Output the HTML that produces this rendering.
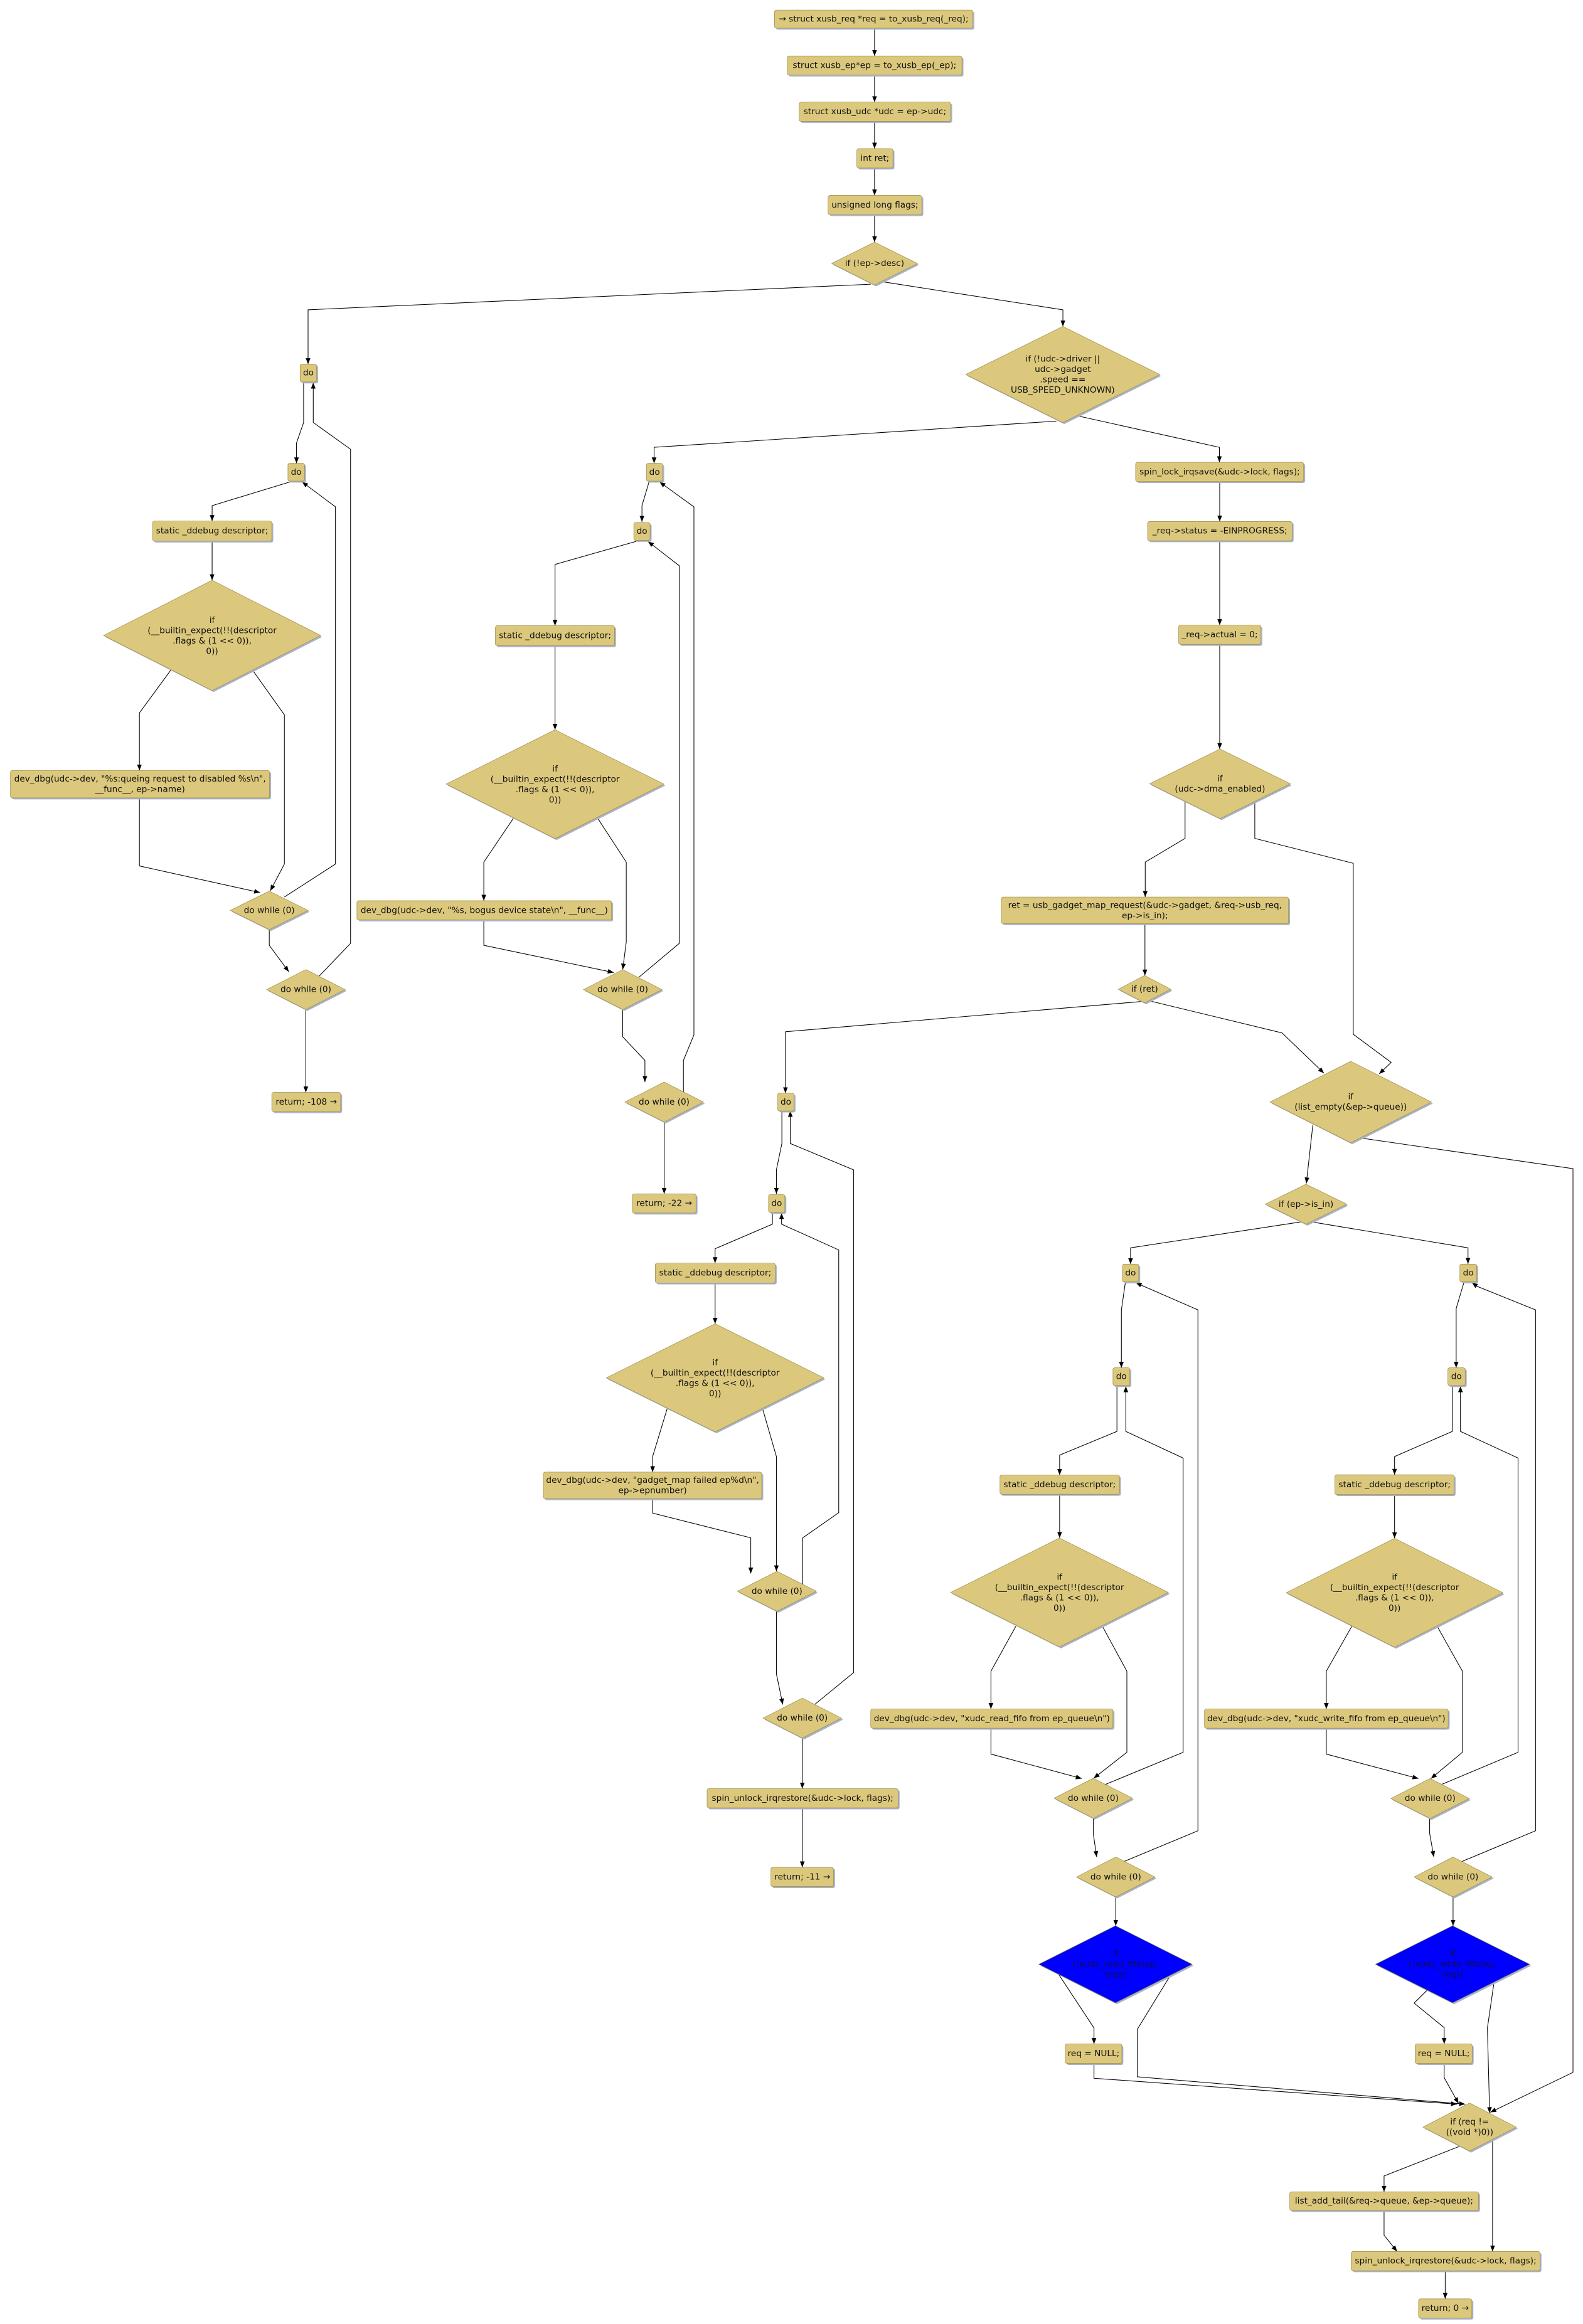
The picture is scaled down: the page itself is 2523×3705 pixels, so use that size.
<!DOCTYPE html>
<html><head><meta charset="utf-8"><style>
html,body{margin:0;padding:0;background:#fff}
svg{display:block}
.n{fill:#dbc87c;stroke:#9c8a45;stroke-width:.3}
.bl{fill:#0000ff;stroke:#6a6a40;stroke-width:.3}
.s{fill:#a9b3c9}
.e{fill:none;stroke:#000;stroke-width:.45;marker-end:url(#a)}
text{font-family:"DejaVu Sans","Liberation Sans",sans-serif;font-size:5.8px;fill:#111;text-anchor:middle;dominant-baseline:central}
</style></head><body>
<svg width="2523" height="3705" viewBox="0 0 1069 1570" xmlns="http://www.w3.org/2000/svg">
<defs><marker id="a" viewBox="0 0 10 10" refX="10" refY="5" markerWidth="4" markerHeight="4" markerUnits="userSpaceOnUse" orient="auto"><path d="M0,1 L10,5 L0,9z" fill="#000"/></marker></defs>

<g>
<polyline class="e" points="590.6,19 590.6,37.8"/>
<polyline class="e" points="590.6,50.7 590.6,69"/>
<polyline class="e" points="590.6,82 590.6,100.4"/>
<polyline class="e" points="590.6,113.5 590.6,132"/>
<polyline class="e" points="590.6,145 590.6,163.6"/>
<polyline class="e" points="588,192 208,209.3 208,246"/>
<polyline class="e" points="595.7,190.3 717.8,209.3 717.8,220.5"/>
<polyline class="e" points="713.4,284.5 441.7,302.2 441.7,313"/>
<polyline class="e" points="728,281 823.5,302.2 823.5,312.3"/>
<polyline class="e" points="823.7,325.5 823.7,352.3"/>
<polyline class="e" points="823.7,365.5 823.7,422.3"/>
<polyline class="e" points="823.7,435.5 823.7,506"/>
<polyline class="e" points="800.3,541.3 800.3,566.4 773.4,582.4 773.4,606"/>
<polyline class="e" points="847.4,541.3 847.4,566.4 913.9,583.2 913.9,698.7 939.5,717.7 931.4,725.5"/>
<polyline class="e" points="773.2,624 773.2,659"/>
<polyline class="e" points="770.7,676.6 530.4,697 530.4,738.5"/>
<polyline class="e" points="776.5,676.2 865.8,697.8 894.1,725"/>
<polyline class="e" points="886.6,760 882.2,799.5"/>
<polyline class="e" points="918.2,768.7 1062.3,789.5 1062.3,1400 1006.5,1427"/>
<polyline class="e" points="878.4,825.5 763.5,843 763.5,854"/>
<polyline class="e" points="886,825.5 991.4,843 991.4,853.8"/>

<polyline class="e" points="205,258 205,285.4 200.2,299.2 200.2,313"/>
<polyline class="e" points="196,325.5 143.2,341.6 143.2,352"/>
<polyline class="e" points="143.2,365.5 143.2,392"/>
<polyline class="e" points="115.3,452.7 94.1,481.6 94.1,520.5"/>
<polyline class="e" points="170.5,452.7 192,482.9 192,583.7 182.5,601.8"/>
<polyline class="e" points="94.1,539 94.1,585 175.6,603"/>
<polyline class="e" points="192,606 226.5,583.7 226.5,342.4 204,325.6"/>
<polyline class="e" points="181.8,628 181.8,638.6 195,656.5"/>
<polyline class="e" points="215.6,659.3 236.7,637.3 236.7,303.5 211.5,285.4 211.5,258.5"/>
<polyline class="e" points="206.5,682 206.5,738"/>

<polyline class="e" points="438.3,325.5 433.5,341.6 433.5,352.5"/>
<polyline class="e" points="430.4,365.5 374.8,381.3 374.8,422.7"/>
<polyline class="e" points="374.8,436.2 374.8,493"/>
<polyline class="e" points="347.2,552 326.7,582.4 326.7,608.5"/>
<polyline class="e" points="403.1,552 422.9,582.4 422.9,636.4 420.5,655"/>
<polyline class="e" points="326.7,621.5 326.7,638.6 414.4,657"/>
<polyline class="e" points="431.4,660.2 458.7,637.3 458.7,382.2 437.6,365.8"/>
<polyline class="e" points="420.5,682 420.5,700.4 435.5,716.4 435.5,731"/>
<polyline class="e" points="461.5,738 461.5,716.4 468.6,699.1 468.6,342.4 445.4,325.6"/>
<polyline class="e" points="448.5,758 448.5,806.5"/>

<polyline class="e" points="528,750.5 528,772.5 524.3,790.3 524.3,806.5"/>
<polyline class="e" points="521.6,819.5 521.6,827 482.9,843.6 482.9,853.3"/>
<polyline class="e" points="482.9,866.7 482.9,894.3"/>
<polyline class="e" points="450.7,951.1 440.7,984 440.7,994.5"/>
<polyline class="e" points="514.8,951.1 524.3,984 524.3,1061.5"/>
<polyline class="e" points="440.7,1012.5 440.7,1022.2 507,1038.9 507,1063"/>
<polyline class="e" points="542.1,1071.4 542.1,1038.9 566.4,1021.9 566.4,844.4 527.8,827 527.8,819.5"/>
<polyline class="e" points="524.3,1088.5 524.3,1130.8 528.6,1151.5"/>
<polyline class="e" points="550,1151.6 576.4,1130 576.4,790.3 533.7,772.5 533.7,750.5"/>
<polyline class="e" points="541.8,1174.2 541.8,1208.3"/>
<polyline class="e" points="541.8,1221.3 541.8,1261.5"/>

<polyline class="e" points="760,866.2 757.3,885 757.3,924"/>
<polyline class="e" points="754.3,936.5 754.3,967 715.6,983 715.6,996.5"/>
<polyline class="e" points="715.6,1009.5 715.6,1039"/>
<polyline class="e" points="686,1098.7 669.2,1129 669.2,1154.5"/>
<polyline class="e" points="744.5,1098.7 761,1129 761,1183.8 738.6,1201.3"/>
<polyline class="e" points="669.2,1167.5 669.2,1185 730.5,1201.5"/>
<polyline class="e" points="745.3,1206 799,1183.8 799,985 760.3,967 760.3,936.5"/>
<polyline class="e" points="738.3,1228.3 738.3,1238.6 740.6,1254.5"/>
<polyline class="e" points="759,1257.6 809,1236.8 809,884.9 772.5,869 767,866.5"/>
<polyline class="e" points="753.5,1281.5 753.5,1301"/>
<polyline class="e" points="714.4,1333 738.8,1370 738.8,1380.8"/>
<polyline class="e" points="790.7,1334 768,1371 768,1403 989.5,1421.5"/>
<polyline class="e" points="738.8,1394 738.8,1404 984,1421.5"/>

<polyline class="e" points="988.7,866.2 983.4,884 983.4,924"/>
<polyline class="e" points="980.8,936.5 980.8,967 941.8,984 941.8,996.3"/>
<polyline class="e" points="941.8,1009.7 941.8,1039.2"/>
<polyline class="e" points="912.9,1098.7 895.7,1129 895.7,1154.5"/>
<polyline class="e" points="970.6,1098.7 987.6,1129 987.6,1183.8 966.4,1201.5"/>
<polyline class="e" points="895.7,1167.5 895.7,1185 957.9,1201.5"/>
<polyline class="e" points="974,1205.3 1025.2,1183.8 1025.2,985 986.3,967 986.3,936.5"/>
<polyline class="e" points="965.5,1228.5 965.5,1238.6 968.3,1254.5"/>
<polyline class="e" points="987.2,1257.6 1037,1236.8 1037,884.9 997.6,869 994,866.5"/>
<polyline class="e" points="981.3,1281.5 981.3,1301"/>
<polyline class="e" points="963.7,1344.6 955,1353.2 975.3,1369.8 975.3,1380.8"/>
<polyline class="e" points="1009,1339 1004.5,1370 1006,1427.5"/>
<polyline class="e" points="975.3,1394 975.3,1403.6 985,1421"/>

<polyline class="e" points="985.6,1450 934.7,1470 934.7,1480.7"/>
<polyline class="e" points="1008,1445 1008,1521"/>
<polyline class="e" points="934.7,1493.3 934.7,1510 943.5,1521"/>
<polyline class="e" points="976,1534 976,1553"/>
</g>

<rect class="s" x="524" y="7.8" width="134" height="12.2" rx="1.3"/><rect class="n" x="523" y="6.8" width="134" height="12.2" rx="1.3"/><text x="590" y="13">→ struct xusb_req *req = to_xusb_req(_req);</text>
<rect class="s" x="532.6" y="38.8" width="118" height="12.9" rx="1.3"/><rect class="n" x="531.6" y="37.8" width="118" height="12.9" rx="1.3"/><text x="590.6" y="44.3">struct xusb_ep*ep  = to_xusb_ep(_ep);</text>
<rect class="s" x="540.7" y="70" width="102.3" height="13" rx="1.3"/><rect class="n" x="539.7" y="69" width="102.3" height="13" rx="1.3"/><text x="590.8" y="75.5">struct xusb_udc *udc = ep-&gt;udc;</text>
<rect class="s" x="579.6" y="101.4" width="24.4" height="13.1" rx="1.3"/><rect class="n" x="578.6" y="100.4" width="24.4" height="13.1" rx="1.3"/><text x="590.8" y="107">int  ret;</text>
<rect class="s" x="560.2" y="133" width="63.3" height="13" rx="1.3"/><rect class="n" x="559.2" y="132" width="63.3" height="13" rx="1.3"/><text x="590.8" y="138.5">unsigned long flags;</text>
<polygon class="s" points="591.6,164.6 620.6,179 591.6,193.5 562.6,179"/><polygon class="n" points="590.6,163.6 619.6,178 590.6,192.5 561.6,178"/><text x="590.6" y="178">if (!ep-&gt;desc)</text>
<polygon class="s" points="718.7,221.5 784.2,254 718.7,286.5 653.2,254"/><polygon class="n" points="717.7,220.5 783.2,253 717.7,285.5 652.2,253"/>
<text x="717.7" y="242.5">if (!udc-&gt;driver ||</text><text x="717.7" y="249.5">udc-&gt;gadget</text><text x="717.7" y="256.5">.speed ==</text><text x="717.7" y="263.5">USB_SPEED_UNKNOWN)</text>

<rect class="s" x="203.6" y="247" width="11.2" height="12" rx="1.2"/><rect class="n" x="202.6" y="246" width="11.2" height="12" rx="1.2"/><text x="208.2" y="252">do</text>
<rect class="s" x="195.4" y="314" width="11.2" height="12" rx="1.2"/><rect class="n" x="194.4" y="313" width="11.2" height="12" rx="1.2"/><text x="200" y="319">do</text>
<rect class="s" x="104" y="353" width="80.5" height="13.5" rx="1.3"/><rect class="n" x="103" y="352" width="80.5" height="13.5" rx="1.3"/><text x="143.2" y="358.7">static _ddebug descriptor;</text>
<polygon class="s" points="144.2,393 217.5,430.3 144.2,467.5 70.9,430.3"/><polygon class="n" points="143.2,392 216.5,429.3 143.2,466.5 69.9,429.3"/>
<text x="143.2" y="419">if</text><text x="143.2" y="426">(__builtin_expect(!!(descriptor</text><text x="143.2" y="433">.flags &amp; (1 &lt;&lt; 0)),</text><text x="143.2" y="440">0))</text>
<rect class="s" x="8" y="521.5" width="175" height="18.5" rx="1.3"/><rect class="n" x="7" y="520.5" width="175" height="18.5" rx="1.3"/><text x="94.5" y="526.3">dev_dbg(udc-&gt;dev, "%s:queing request to disabled %s\n",</text><text x="94.5" y="533.3">__func__, ep-&gt;name)</text>
<polygon class="s" points="182.8,603 209,616 182.8,629 156.5,616"/><polygon class="n" points="181.8,602 208,615 181.8,628 155.5,615"/><text x="181.8" y="615">do while (0)</text>
<polygon class="s" points="207.5,656 234,669.5 207.5,683 181,669.5"/><polygon class="n" points="206.5,655 233,668.5 206.5,682 180,668.5"/><text x="206.5" y="668.5">do while (0)</text>
<rect class="s" x="184.5" y="739" width="46.5" height="13" rx="1.3"/><rect class="n" x="183.5" y="738" width="46.5" height="13" rx="1.3"/><text x="206.8" y="744.5">return; -108 →</text>

<rect class="s" x="437.5" y="314" width="11" height="12" rx="1.2"/><rect class="n" x="436.5" y="313" width="11" height="12" rx="1.2"/><text x="442" y="319">do</text>
<rect class="s" x="429" y="354" width="11" height="12" rx="1.2"/><rect class="n" x="428" y="353" width="11" height="12" rx="1.2"/><text x="433.5" y="359">do</text>
<rect class="s" x="335.5" y="423.7" width="80.5" height="13.5" rx="1.3"/><rect class="n" x="334.5" y="422.7" width="80.5" height="13.5" rx="1.3"/><text x="374.8" y="429.5">static _ddebug descriptor;</text>
<polygon class="s" points="375.8,494 449.3,530.7 375.8,567.5 302.3,530.7"/><polygon class="n" points="374.8,493 448.3,529.7 374.8,566.5 301.3,529.7"/>
<text x="374.8" y="519.5">if</text><text x="374.8" y="526.5">(__builtin_expect(!!(descriptor</text><text x="374.8" y="533.5">.flags &amp; (1 &lt;&lt; 0)),</text><text x="374.8" y="540.5">0))</text>
<rect class="s" x="242" y="609.5" width="172" height="13" rx="1.3"/><rect class="n" x="241" y="608.5" width="172" height="13" rx="1.3"/><text x="327" y="615">dev_dbg(udc-&gt;dev, "%s, bogus device state\n", __func__)</text>
<polygon class="s" points="421.5,656 448,669.5 421.5,683 395,669.5"/><polygon class="n" points="420.5,655 447,668.5 420.5,682 394,668.5"/><text x="420.5" y="668.5">do while (0)</text>
<polygon class="s" points="449.5,732 476,745.5 449.5,759 423,745.5"/><polygon class="n" points="448.5,731 475,744.5 448.5,758 422,744.5"/><text x="448.5" y="744.5">do while (0)</text>
<rect class="s" x="428" y="807.5" width="43" height="13" rx="1.3"/><rect class="n" x="427" y="806.5" width="43" height="13" rx="1.3"/><text x="448.5" y="813">return; -22 →</text>

<rect class="s" x="767.9" y="313.3" width="113.5" height="13" rx="1.3"/><rect class="n" x="766.9" y="312.3" width="113.5" height="13" rx="1.3"/><text x="823.7" y="318.8">spin_lock_irqsave(&amp;udc-&gt;lock, flags);</text>
<rect class="s" x="776" y="353.3" width="97.6" height="13" rx="1.3"/><rect class="n" x="775" y="352.3" width="97.6" height="13" rx="1.3"/><text x="823.8" y="358.8">_req-&gt;status = -EINPROGRESS;</text>
<rect class="s" x="797" y="423.3" width="55.5" height="13" rx="1.3"/><rect class="n" x="796" y="422.3" width="55.5" height="13" rx="1.3"/><text x="823.7" y="428.8">_req-&gt;actual = 0;</text>
<polygon class="s" points="824.9,507 872.4,530.5 824.9,554 777.4,530.5"/><polygon class="n" points="823.9,506 871.4,529.5 823.9,553 776.4,529.5"/><text x="823.9" y="526">if</text><text x="823.9" y="533">(udc-&gt;dma_enabled)</text>
<rect class="s" x="677.2" y="607" width="194" height="18" rx="1.3"/><rect class="n" x="676.2" y="606" width="194" height="18" rx="1.3"/><text x="773.2" y="611.6">ret = usb_gadget_map_request(&amp;udc-&gt;gadget, &amp;req-&gt;usb_req,</text><text x="773.2" y="618.6">ep-&gt;is_in);</text>
<polygon class="s" points="774,660 791.7,669.3 774,678.5 756.2,669.3"/><polygon class="n" points="773,659 790.7,668.3 773,677.5 755.2,668.3"/><text x="773" y="668.3">if (ret)</text>
<polygon class="s" points="913.2,718 967.7,745.5 913.2,773 858.7,745.5"/><polygon class="n" points="912.2,717 966.7,744.5 912.2,772 857.7,744.5"/><text x="912.2" y="741">if</text><text x="912.2" y="748">(list_empty(&amp;ep-&gt;queue))</text>
<polygon class="s" points="883,801 910.5,814.5 883,828 855.5,814.5"/><polygon class="n" points="882,800 909.5,813.5 882,827 854.5,813.5"/><text x="882" y="813.5">if (ep-&gt;is_in)</text>

<rect class="s" x="526.2" y="739.5" width="11" height="12" rx="1.2"/><rect class="n" x="525.2" y="738.5" width="11" height="12" rx="1.2"/><text x="530.7" y="744.5">do</text>
<rect class="s" x="520" y="808" width="11" height="12" rx="1.2"/><rect class="n" x="519" y="807" width="11" height="12" rx="1.2"/><text x="524.5" y="813">do</text>
<rect class="s" x="443.5" y="854.3" width="81" height="13.4" rx="1.3"/><rect class="n" x="442.5" y="853.3" width="81" height="13.4" rx="1.3"/><text x="483" y="860">static _ddebug descriptor;</text>
<polygon class="s" points="483.9,895.3 557.4,931.8 483.9,968.3 410.4,931.8"/><polygon class="n" points="482.9,894.3 556.4,930.8 482.9,967.3 409.4,930.8"/>
<text x="482.9" y="920.5">if</text><text x="482.9" y="927.5">(__builtin_expect(!!(descriptor</text><text x="482.9" y="934.5">.flags &amp; (1 &lt;&lt; 0)),</text><text x="482.9" y="941.5">0))</text>
<rect class="s" x="367.9" y="995.5" width="147.5" height="18" rx="1.3"/><rect class="n" x="366.9" y="994.5" width="147.5" height="18" rx="1.3"/><text x="440.7" y="1000">dev_dbg(udc-&gt;dev, "gadget_map failed ep%d\n",</text><text x="440.7" y="1007">ep-&gt;epnumber)</text>
<polygon class="s" points="525.7,1062.5 552.3,1076 525.7,1089.5 499,1076"/><polygon class="n" points="524.7,1061.5 551.3,1075 524.7,1088.5 498,1075"/><text x="524.7" y="1075">do while (0)</text>
<polygon class="s" points="542.8,1148.2 569.3,1161.7 542.8,1175.2 516.3,1161.7"/><polygon class="n" points="541.8,1147.2 568.3,1160.7 541.8,1174.2 515.3,1160.7"/><text x="541.8" y="1160.7">do while (0)</text>
<rect class="s" x="478.5" y="1209.3" width="129" height="13" rx="1.3"/><rect class="n" x="477.5" y="1208.3" width="129" height="13" rx="1.3"/><text x="542" y="1214.8">spin_unlock_irqrestore(&amp;udc-&gt;lock, flags);</text>
<rect class="s" x="521.6" y="1262.5" width="42.3" height="13" rx="1.3"/><rect class="n" x="520.6" y="1261.5" width="42.3" height="13" rx="1.3"/><text x="541.8" y="1268">return; -11 →</text>

<rect class="s" x="759" y="855" width="11" height="12" rx="1.2"/><rect class="n" x="758" y="854" width="11" height="12" rx="1.2"/><text x="763.5" y="860">do</text>
<rect class="s" x="752.6" y="925" width="11.4" height="12" rx="1.2"/><rect class="n" x="751.6" y="924" width="11.4" height="12" rx="1.2"/><text x="757.3" y="930">do</text>
<rect class="s" x="676.3" y="997.5" width="80.7" height="13" rx="1.3"/><rect class="n" x="675.3" y="996.5" width="80.7" height="13" rx="1.3"/><text x="715.6" y="1003">static _ddebug descriptor;</text>
<polygon class="s" points="716.5,1040 790,1076.8 716.5,1113.6 643,1076.8"/><polygon class="n" points="715.5,1039 789,1075.8 715.5,1112.6 642,1075.8"/>
<text x="715.5" y="1065.5">if</text><text x="715.5" y="1072.5">(__builtin_expect(!!(descriptor</text><text x="715.5" y="1079.5">.flags &amp; (1 &lt;&lt; 0)),</text><text x="715.5" y="1086.5">0))</text>
<rect class="s" x="589" y="1155.5" width="163.6" height="13" rx="1.3"/><rect class="n" x="588" y="1154.5" width="163.6" height="13" rx="1.3"/><text x="669.8" y="1161">dev_dbg(udc-&gt;dev, "xudc_read_fifo from ep_queue\n")</text>
<polygon class="s" points="739.3,1202.3 765.8,1215.8 739.3,1229.3 712.8,1215.8"/><polygon class="n" points="738.3,1201.3 764.8,1214.8 738.3,1228.3 711.8,1214.8"/><text x="738.3" y="1214.8">do while (0)</text>
<polygon class="s" points="754.5,1255.5 781,1269 754.5,1282.5 728,1269"/><polygon class="n" points="753.5,1254.5 780,1268 753.5,1281.5 727,1268"/><text x="753.5" y="1268">do while (0)</text>
<polygon class="s" points="754.3,1302 806,1328 754.3,1354 702.6,1328"/><polygon class="bl" points="753.3,1301 805,1327 753.3,1353 701.6,1327"/><text x="753.3" y="1320" style="fill:#101040">if</text><text x="753.3" y="1327" style="fill:#101040">(!xudc_read_fifo(ep,</text><text x="753.3" y="1334" style="fill:#101040">req))</text>
<rect class="s" x="720.4" y="1381.8" width="38.2" height="13.2" rx="1.3"/><rect class="n" x="719.4" y="1380.8" width="38.2" height="13.2" rx="1.3"/><text x="738.5" y="1387.4">req = NULL;</text>

<rect class="s" x="986.9" y="855" width="11.4" height="12" rx="1.2"/><rect class="n" x="985.9" y="854" width="11.4" height="12" rx="1.2"/><text x="991.6" y="860">do</text>
<rect class="s" x="978.8" y="925" width="11.7" height="12" rx="1.2"/><rect class="n" x="977.8" y="924" width="11.7" height="12" rx="1.2"/><text x="983.6" y="930">do</text>
<rect class="s" x="902.5" y="997.3" width="80.5" height="13.4" rx="1.3"/><rect class="n" x="901.5" y="996.3" width="80.5" height="13.4" rx="1.3"/><text x="941.8" y="1003">static _ddebug descriptor;</text>
<polygon class="s" points="942.8,1040.2 1016,1077 942.8,1113.8 869.6,1077"/><polygon class="n" points="941.8,1039.2 1015,1076 941.8,1112.8 868.6,1076"/>
<text x="941.8" y="1065.5">if</text><text x="941.8" y="1072.5">(__builtin_expect(!!(descriptor</text><text x="941.8" y="1079.5">.flags &amp; (1 &lt;&lt; 0)),</text><text x="941.8" y="1086.5">0))</text>
<rect class="s" x="814.4" y="1155.5" width="164.6" height="13" rx="1.3"/><rect class="n" x="813.4" y="1154.5" width="164.6" height="13" rx="1.3"/><text x="895.7" y="1161">dev_dbg(udc-&gt;dev, "xudc_write_fifo from ep_queue\n")</text>
<polygon class="s" points="966.8,1202.5 993.3,1216 966.8,1229.5 940.3,1216"/><polygon class="n" points="965.8,1201.5 992.3,1215 965.8,1228.5 939.3,1215"/><text x="965.8" y="1215">do while (0)</text>
<polygon class="s" points="982.3,1255.5 1008.7,1269 982.3,1282.5 956,1269"/><polygon class="n" points="981.3,1254.5 1007.7,1268 981.3,1281.5 955,1268"/><text x="981.3" y="1268">do while (0)</text>
<polygon class="s" points="982,1302 1034,1328 982,1354 930,1328"/><polygon class="bl" points="981,1301 1033,1327 981,1353 929,1327"/><text x="981" y="1320" style="fill:#101040">if</text><text x="981" y="1327" style="fill:#101040">(!xudc_write_fifo(ep,</text><text x="981" y="1334" style="fill:#101040">req))</text>
<rect class="s" x="956.7" y="1381.8" width="38.5" height="13.2" rx="1.3"/><rect class="n" x="955.7" y="1380.8" width="38.5" height="13.2" rx="1.3"/><text x="975" y="1387.4">req = NULL;</text>

<polygon class="s" points="993.5,1421.7 1025,1438 993.5,1454.2 962,1438"/><polygon class="n" points="992.5,1420.7 1024,1437 992.5,1453.2 961,1437"/><text x="992.5" y="1433.5">if (req !=</text><text x="992.5" y="1440.5">((void *)0))</text>
<rect class="s" x="872" y="1481.7" width="127.5" height="12.6" rx="1.3"/><rect class="n" x="871" y="1480.7" width="127.5" height="12.6" rx="1.3"/><text x="934.7" y="1487">list_add_tail(&amp;req-&gt;queue, &amp;ep-&gt;queue);</text>
<rect class="s" x="913.5" y="1522" width="127.5" height="13" rx="1.3"/><rect class="n" x="912.5" y="1521" width="127.5" height="13" rx="1.3"/><text x="976.3" y="1527.5">spin_unlock_irqrestore(&amp;udc-&gt;lock, flags);</text>
<rect class="s" x="959" y="1554" width="36" height="13" rx="1.3"/><rect class="n" x="958" y="1553" width="36" height="13" rx="1.3"/><text x="976" y="1559.5">return; 0 →</text>
</svg>
</body></html>
